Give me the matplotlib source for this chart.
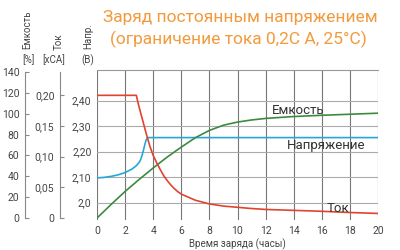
import matplotlib
matplotlib.use("Agg")
import matplotlib.pyplot as plt

plt.rcParams['font.family'] = ['Roboto', 'DejaVu Sans']

# Data
hours_ticks = [0, 2, 4, 6, 8, 10, 12, 14, 16, 18, 20]
volt_ticks = [2.0, 2.10, 2.20, 2.30, 2.40]
volt_labels = ["2,0", "2,10", "2,20", "2,30", "2,40"]
cap_ticks = [0, 20, 40, 60, 80, 100, 120, 140]
cur_ticks = [0, 0.05, 0.10, 0.15, 0.20]
cur_labels = ["0", "0,05", "0,10", "0,15", "0,20"]

v_t = [0, 0.5, 1, 1.5, 2, 2.5, 2.8, 3.0, 3.1, 3.2, 3.3, 3.4, 3.5, 3.6, 20]
v_val = [2.097, 2.099, 2.103, 2.109, 2.118, 2.132, 2.145, 2.158, 2.168, 2.184, 2.204,
         2.227, 2.246, 2.255, 2.255]

c_t = [0, 2.8, 2.95, 3.1, 3.3, 3.5, 3.75, 4.0, 4.25, 4.5, 4.75, 5.0, 5.25, 5.5, 5.75,
       6.0, 6.5, 7, 7.5, 8, 9, 10, 11, 12, 14, 16, 18, 20]
c_val = [0.2, 0.2, 0.185, 0.172, 0.155, 0.138, 0.118, 0.102, 0.090, 0.079, 0.069, 0.061,
         0.054, 0.048, 0.043, 0.039, 0.034, 0.029, 0.026, 0.023, 0.0195, 0.0175, 0.0155,
         0.014, 0.0125, 0.011, 0.009, 0.0075]

cap_t = [0, 1, 2, 3, 4, 5, 6, 7, 8, 9, 10, 11, 12, 14, 16, 18, 20]
cap_val = [0, 13, 25.5, 37, 48, 58.5, 68, 77, 84, 89, 92, 94, 95.5, 97.3, 98.5, 99.5, 100.5]

title1 = "Заряд постоянным напряжением"
title2 = "(ограничение тока 0,2C A, 25°C)"

RED = '#e2432f'
BLUE = '#25a8d9'
GREEN = '#3b8b3f'
ORANGE = '#f29a3c'
TXT = '#444444'
SPINE = '#888888'

fig = plt.figure(figsize=(4, 2.5), dpi=100)
W, H = 400, 250
x0, x1, ytop, ybot = 97, 378, 70, 220
ax = fig.add_axes([x0 / W, (H - ybot) / H, (x1 - x0) / W, (ybot - ytop) / H])

ax.set_xlim(0, 20)
ax.set_ylim(1.932, 2.520)
ax.set_xticks(hours_ticks)
ax.set_yticks(volt_ticks)
ax.set_yticklabels(volt_labels)
for s in ['left', 'bottom', 'right']:
    ax.spines[s].set_visible(False)
ax.spines['top'].set_color('#999999')
ax.spines['top'].set_linewidth(0.8)
for xv in hours_ticks:
    ax.axvline(xv, color='#777777', lw=0.8, zorder=1)
for yv in volt_ticks:
    ax.axhline(yv, color='#aaaaaa', lw=0.8, zorder=1)
ax.tick_params(axis='both', length=0, labelsize=7.5, colors=TXT)
ax.tick_params(axis='y', pad=4)
ax.tick_params(axis='x', pad=4)
ax.set_xlabel("Время заряда (часы)", fontsize=7, color=TXT, labelpad=2)

ax.plot(v_t, v_val, color=BLUE, lw=1.2, zorder=3)

# capacity axis
axc = ax.twinx()
axc.yaxis.set_ticks_position('left')
axc.yaxis.set_label_position('left')
axc.spines['left'].set_position(('axes', (25 - x0) / (x1 - x0)))
for s in ['right', 'top', 'bottom']:
    axc.spines[s].set_visible(False)
axc.spines['left'].set_color(SPINE)
axc.spines['left'].set_linewidth(0.8)
axc.set_ylim(-1.87, 141.9)
axc.spines['left'].set_bounds(0, 140)
axc.set_yticks(cap_ticks)
axc.tick_params(axis='y', direction='in', length=3, width=0.8, colors=SPINE,
                labelcolor=TXT, labelsize=7.5, pad=4)
axc.plot(cap_t, cap_val, color=GREEN, lw=1.2, zorder=3, clip_on=True)

# current axis
axi = ax.twinx()
axi.yaxis.set_ticks_position('left')
axi.yaxis.set_label_position('left')
axi.spines['left'].set_position(('axes', (60 - x0) / (x1 - x0)))
for s in ['right', 'top', 'bottom']:
    axi.spines[s].set_visible(False)
axi.spines['left'].set_color(SPINE)
axi.spines['left'].set_linewidth(0.8)
axi.set_ylim(-0.0032, 0.2413)
axi.spines['left'].set_bounds(0, 0.238)
axi.set_yticks(cur_ticks)
axi.set_yticklabels(cur_labels)
axi.tick_params(axis='y', direction='in', length=3, width=0.8, colors=SPINE,
                labelcolor=TXT, labelsize=7.5, pad=4)
axi.plot(c_t, c_val, color=RED, lw=1.2, zorder=3)

# curve labels
fig.text(298 / W, 1 - 110 / H, "Емкость", fontsize=9.5, color='#333333', ha='center', va='center')
fig.text(326 / W, 1 - 145 / H, "Напряжение", fontsize=9.5, color='#333333', ha='center', va='center')
fig.text(338 / W, 1 - 208 / H, "Ток", fontsize=9.5, color='#333333', ha='center', va='center')

# axis header labels
fig.text(27 / W, 1 - 30 / H, "Емкость", rotation=90, fontsize=7, color=TXT, ha='center', va='center')
fig.text(59 / W, 1 - 42 / H, "Ток", rotation=90, fontsize=7, color=TXT, ha='center', va='center')
fig.text(88 / W, 1 - 36 / H, "Напр.", rotation=90, fontsize=7, color=TXT, ha='center', va='center')
fig.text(28 / W, 1 - 60 / H, "[%]", fontsize=7, color=TXT, ha='center', va='center')
fig.text(54 / W, 1 - 60 / H, "[xCA]", fontsize=7, color=TXT, ha='center', va='center')
fig.text(88 / W, 1 - 60 / H, "(В)", fontsize=7, color=TXT, ha='center', va='center')

# title
fig.text(240 / W, 1 - 17 / H, title1, fontsize=12.5, color=ORANGE, ha='center', va='center')
fig.text(238 / W, 1 - 39 / H, title2, fontsize=12.5, color=ORANGE, ha='center', va='center')

fig.savefig("out.png", dpi=100)
